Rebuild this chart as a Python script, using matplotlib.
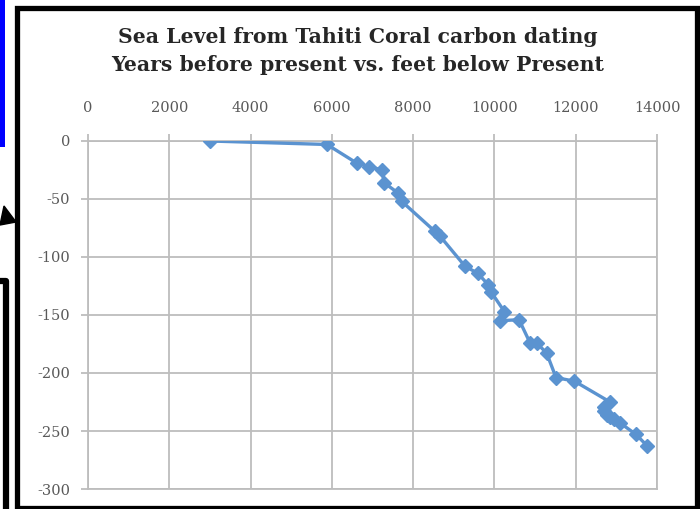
import matplotlib
matplotlib.use("Agg")
import matplotlib.pyplot as plt
from matplotlib.patches import Rectangle, Polygon
from matplotlib.lines import Line2D

years = [3000, 5880, 6610, 6915, 7240, 7285, 7636, 7718, 8538, 8661,
         9277, 9589, 9850, 9916, 10244, 10138, 10605, 10876, 11040, 11286,
         11516, 11967, 12845, 12700, 12690, 12760, 12850, 12950, 13090,
         13484, 13763]
depth = [0, -3, -19, -22, -25, -36, -45, -52, -78, -82,
         -108, -114, -124, -130, -147, -155, -154, -174, -174, -183,
         -204, -207, -225, -229, -233, -236, -238, -240, -243,
         -253, -263]
x_ticks = [0, 2000, 4000, 6000, 8000, 10000, 12000, 14000]
y_ticks = [0, -50, -100, -150, -200, -250, -300]
title = "Sea Level from Tahiti Coral carbon dating\nYears before present vs. feet below Present"

plt.rcParams['axes.unicode_minus'] = False
W, H = 700, 509
fig = plt.figure(figsize=(7, 5.09), dpi=100)

def fx(px):
    return px / W

def fy(py):
    return 1 - py / H

ax = fig.add_axes([fx(88), fy(489), fx(657) - fx(88), fy(141) - fy(489)])
ax.plot(years, depth, color='#5b93d0', lw=2.4, marker='D', ms=6.8,
        markeredgecolor='#5b93d0', zorder=3)
ax.set_xlim(0, 14000)
ax.set_ylim(-300, 0)
ax.set_xticks(x_ticks)
ax.set_yticks(y_ticks)
ax.xaxis.tick_top()
grid_c = '#bdbdbd'
ax.grid(True, color=grid_c, lw=1.3)
ax.set_axisbelow(True)
for s in ax.spines.values():
    s.set_color(grid_c)
    s.set_linewidth(1.3)
ax.tick_params(axis='x', colors=grid_c, length=5, width=1.3, pad=14,
               labelcolor='#595959', labelsize=10.5)
ax.tick_params(axis='y', colors=grid_c, length=5, width=1.3, pad=8,
               labelcolor='#595959', labelsize=10.5)
for lab in ax.get_xticklabels() + ax.get_yticklabels():
    lab.set_fontfamily('DejaVu Serif')

fig.text(fx(358), fy(51), title, ha='center', va='center',
         fontsize=14.7, fontweight='bold', family='DejaVu Serif',
         color='#262626', linespacing=1.5)

# decorations
fig.patches.append(Rectangle((fx(16.5), fy(507.5)), fx(697) - fx(16.5),
                             fy(7.5) - fy(507.5), fill=False, ec='black',
                             lw=3.8, transform=fig.transFigure, zorder=10))
fig.patches.append(Rectangle((0, fy(147)), fx(4.5), fy(0) - fy(147),
                             fc='#0000ff', ec='none',
                             transform=fig.transFigure, zorder=10))
fig.patches.append(Polygon([(0, fy(225)), (fx(4), fy(206)), (fx(16), fy(222))],
                           closed=True, fc='black', ec='black',
                           transform=fig.transFigure, zorder=10))
fig.lines.append(Line2D([0, fx(6), fx(6)], [fy(281), fy(281), fy(509)],
                        color='black', lw=4.5, transform=fig.transFigure,
                        zorder=10))

fig.savefig('out.png', dpi=100)
